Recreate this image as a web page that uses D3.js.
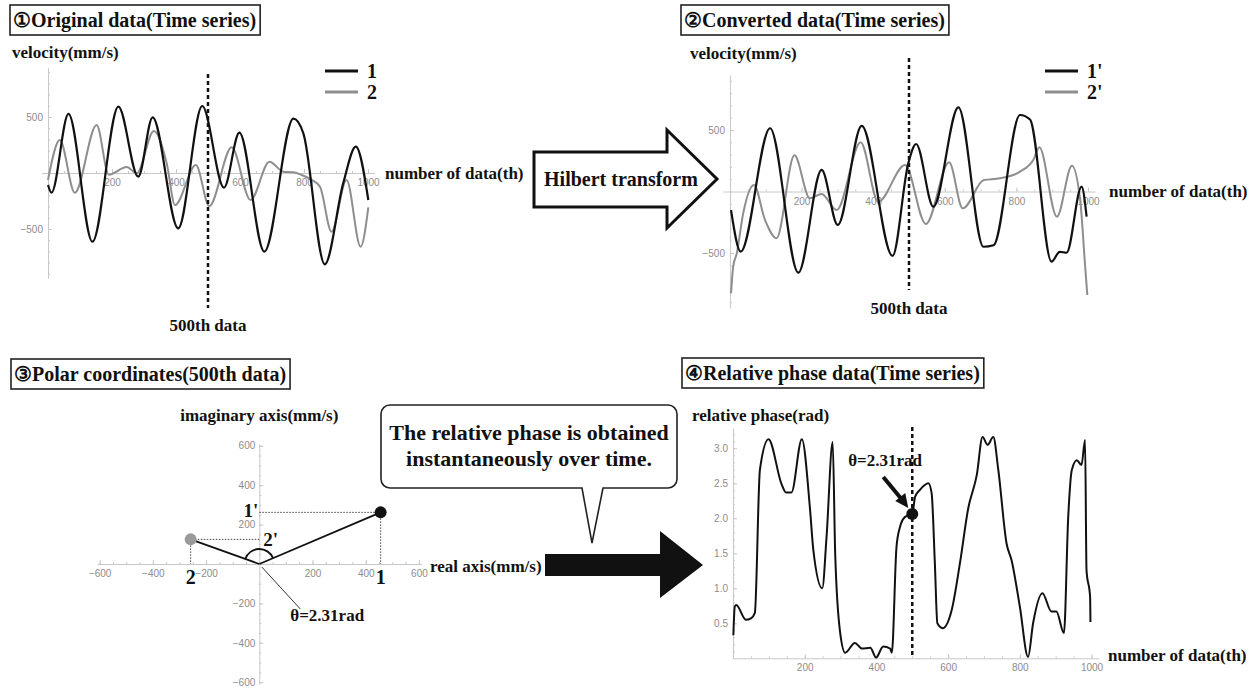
<!DOCTYPE html>
<html>
<head>
<meta charset="utf-8">
<script src="https://cdn.jsdelivr.net/npm/d3@7"></script>
<style>
  body { margin: 0; background: #fff; }
  .lab { font-family: "Liberation Serif", "Times New Roman", serif; font-weight: bold; fill: #111; }
  .axis text { font-family: "Liberation Sans", Arial, sans-serif; font-size: 10px; fill: #8c8c8c; }
  .axis path, .axis line { stroke: #c8c8c8; }
</style>
</head>
<body>
<script>
// ① original velocity, [number of data, mm/s]
const orig1 = [[0,-107],[11,-176],[64,527],[139,-613],[220,592],[282,-33],[327,497],[407,-494],[482,598],
  [550,-131],[598,360],[676,-702],[767,485],[798,354],[865,-815],[923,-86],[962,235],[1001,-241]];
const orig2 = [[0,-62],[37,295],[84,-176],[152,429],[190,-15],[246,54],[277,-3],[331,375],[371,86],[397,-286],
  [462,71],[504,-295],[574,229],[633,-241],[692,101],[735,12],[767,6],[793,-18],[824,-62],[850,-122],
  [886,-524],[933,-62],[977,-658],[1001,-306]];

// ② after hilbert transform
const conv1 = [[3,-152],[30,-489],[112,514],[191,-660],[256,175],[301,-272],[368,533],[454,-524],[498,229],
  [520,386],[568,-124],[638,684],[708,-449],[736,-437],[810,622],[838,585],[898,-570],[921,-490],[940,-498],
  [982,39],[996,-205]];
const conv2 = [[3,-828],[9,-611],[19,-503],[37,-177],[67,53],[98,-232],[130,-380],[180,294],[223,-55],[256,-20],
  [298,-150],[365,400],[414,-83],[489,215],[547,-264],[612,237],[650,-137],[709,93],[754,107],[810,161],
  [847,256],[864,359],[913,-205],[955,210],[978,-69],[992,-611],[998,-841]];

// ③ polar coordinates at the 500th data
const polarReal = [456, -258];
const polarImag = [262, 125];
const polarNames = ["1", "2"];
const polarNamesImag = ["1'", "2'"];

// ④ relative phase (rad)
const phase = [[1,0.33],[5,0.74],[9,0.76],[36,0.55],[50,0.57],[61,0.65],[75,2.69],[99,3.13],[136,2.48],[148,2.37],
  [163,2.37],[192,3.13],[215,2.12],[224,1.55],[249,1.0],[261,1.74],[278,3.09],[285,1.5],[299,0.36],[313,0.08],
  [340,0.22],[359,0.14],[383,0.15],[399,0.01],[419,0.17],[438,0.14],[443,0.08],[456,1.59],[466,1.88],[480,2.02],
  [500,2.06],[508,2.31],[522,2.41],[545,2.5],[554,2.36],[563,1.36],[570,0.5],[585,0.43],[610,0.69],[633,1.36],
  [656,2.14],[680,2.62],[696,3.16],[710,3.05],[726,3.16],[740,2.69],[763,1.64],[777,1.40],[800,0.74],[823,0.02],
  [837,0.5],[863,0.93],[888,0.67],[902,0.67],[923,0.36],[935,2.02],[945,2.69],[959,2.83],[972,2.76],[982,3.12],
  [986,1.26],[996,0.88],[997,0.52]];
const markIdx = 500;
const markPhase = 2.06;

// ticks
const idxTicks = [200, 400, 600, 800, 1000];
const velTicks = [-500, 500];
const polarTicks = [-600, -400, -200, 200, 400, 600];
const phaseTicks = [0.5, 1.0, 1.5, 2.0, 2.5, 3.0];

const BLACK = "#111";
const GRAY = "#8e8e8e";

const svg = d3.select("body").append("svg")
  .attr("width", 1260)
  .attr("height", 691);

const label = function(x, y, txt, size, anchor) {
  return svg.append("text")
    .attr("class", "lab")
    .attr("x", x)
    .attr("y", y)
    .attr("text-anchor", anchor || "start")
    .style("font-size", size + "px")
    .text(txt);
}

const titleBox = function(x, y, h, txt) {
  const r = svg.append("rect")
    .attr("x", x).attr("y", y).attr("height", h)
    .attr("fill", "#fff").attr("stroke", "#222").attr("stroke-width", 1.6);
  const t = label(x + 3, y + h / 2, txt, 20).attr("dy", "0.35em");
  r.attr("width", t.node().getComputedTextLength() + 7);
}

// mathematica-like light axes crossing at the origin
const drawAxes = function(x, y, o) {
  const xa = svg.append("g").attr("class", "axis")
    .attr("transform", `translate(0,${y(0)})`);
  xa.append("g").call(d3.axisBottom(x).tickValues(o.xMinor).tickSizeInner(-2).tickSizeOuter(0).tickFormat(""))
    .select(".domain").remove();
  xa.append("g").call(d3.axisBottom(x).tickValues(o.xMajor).tickSizeInner(-4).tickSizeOuter(0)
    .tickPadding(6).tickFormat(o.xFmt || d3.format("")));

  const ya = svg.append("g").attr("class", "axis")
    .attr("transform", `translate(${x(0)},0)`);
  ya.append("g").call(d3.axisLeft(y).tickValues(o.yMinor).tickSizeInner(-2).tickSizeOuter(0).tickFormat(""))
    .select(".domain").remove();
  ya.append("g").call(d3.axisLeft(y).tickValues(o.yMajor).tickSizeInner(-4).tickSizeOuter(0)
    .tickPadding(o.yPad || 5).tickFormat(o.yFmt || d3.format("")));
}

const drawLine = function(data, x, y, color, width) {
  const line = d3.line()
    .x(d => x(d[0]))
    .y(d => y(d[1]))
    .curve(d3.curveMonotoneX);
  svg.append("path")
    .datum(data)
    .attr("fill", "none")
    .attr("stroke", color)
    .attr("stroke-width", width)
    .attr("stroke-linejoin", "round")
    .attr("d", line);
}

const legend = function(x, y, names) {
  [BLACK, GRAY].forEach((c, i) => {
    svg.append("line")
      .attr("x1", x).attr("x2", x + 33)
      .attr("y1", y + i * 21).attr("y2", y + i * 21)
      .attr("stroke", c).attr("stroke-width", 3);
    label(x + 42, y + i * 21 + 7, names[i], 20);
  });
}

const dashed = function(x0, y0, y1) {
  svg.append("line")
    .attr("x1", x0).attr("x2", x0)
    .attr("y1", y0).attr("y2", y1)
    .attr("stroke", BLACK).attr("stroke-width", 2.5)
    .attr("stroke-dasharray", "4,3");
}

const minorRange = (a, b, s) => d3.range(a, b + 0.001, s);

// ---------- panel 1 ----------
const x1 = d3.scaleLinear().domain([-20, 1020]).range([41.6, 374.4]);
const y1 = d3.scaleLinear().domain([-940, 940]).range([278.3, 67.7]);
titleBox(10, 5, 30, "\u2460Original data(Time series)");
label(12, 58, "velocity(mm/s)", 17);
drawAxes(x1, y1, {
  xMajor: idxTicks, xMinor: minorRange(0, 1000, 50),
  yMajor: velTicks, yMinor: minorRange(-900, 900, 100)
});
drawLine(orig2, x1, y1, GRAY, 2);
drawLine(orig1, x1, y1, BLACK, 2.2);
legend(325, 71, ["1", "2"]);
label(385, 179, "number of data(th)", 17);
dashed(x1(markIdx), 74, 308);
label(x1(markIdx), 331, "500th data", 17, "middle");

// ---------- hilbert arrow ----------
svg.append("polygon")
  .attr("points", [[534,152],[667,152],[667,130],[717,179],[667,228],[667,207],[534,207]].join(" "))
  .attr("fill", "#fff").attr("stroke", BLACK).attr("stroke-width", 3).attr("stroke-linejoin", "miter");
label(621, 186, "Hilbert transform", 20, "middle");

// ---------- panel 2 ----------
const x2 = d3.scaleLinear().domain([-20, 1020]).range([722.8, 1095.2]);
const y2 = d3.scaleLinear().domain([-947, 947]).range([308, 75]);
titleBox(681, 5, 30, "\u2461Converted data(Time series)");
label(690, 59, "velocity(mm/s)", 17);
drawAxes(x2, y2, {
  xMajor: idxTicks, xMinor: minorRange(0, 1000, 50),
  yMajor: velTicks, yMinor: minorRange(-900, 900, 100)
});
drawLine(conv2, x2, y2, GRAY, 2);
drawLine(conv1, x2, y2, BLACK, 2.2);
legend(1045, 71, ["1'", "2'"]);
label(1109, 197, "number of data(th)", 17);
dashed(x2(markIdx), 58, 290);
label(x2(markIdx), 314, "500th data", 17, "middle");

// ---------- panel 3 ----------
const x3 = d3.scaleLinear().domain([-610, 610]).range([97, 421.6]);
const y3 = d3.scaleLinear().domain([-610, 610]).range([684.2, 443.8]);
titleBox(11, 359, 30, "\u2462Polar coordinates(500th data)");
label(x3(0), 421, "imaginary axis(mm/s)", 17, "middle");
drawAxes(x3, y3, {
  xMajor: polarTicks, xMinor: minorRange(-600, 600, 50),
  yMajor: polarTicks, yMinor: minorRange(-600, 600, 50), yPad: 4
});

const ox = x3(0), oy = y3(0);
// projections to the axes
polarReal.forEach((re, i) => {
  const px = x3(re), py = y3(polarImag[i]);
  svg.append("path")
    .attr("d", `M${ox},${py}H${px}M${px},${py}V${oy}`)
    .attr("fill", "none").attr("stroke", "#444").attr("stroke-width", 1)
    .attr("stroke-dasharray", "1.5,1.5");
});
// angle arc between the two vectors
const arcR = 15;
const unit = (px, py) => { const l = Math.hypot(px - ox, py - oy); return [(px - ox) / l, (py - oy) / l]; };
const u1 = unit(x3(polarReal[0]), y3(polarImag[0]));
const u2 = unit(x3(polarReal[1]), y3(polarImag[1]));
svg.append("path")
  .attr("d", `M${ox + arcR * u1[0]},${oy + arcR * u1[1]}A${arcR},${arcR} 0 0 0 ${ox + arcR * u2[0]},${oy + arcR * u2[1]}`)
  .attr("fill", "none").attr("stroke", BLACK).attr("stroke-width", 1.8);
polarReal.forEach((re, i) => {
  svg.append("line")
    .attr("x1", ox).attr("y1", oy)
    .attr("x2", x3(re)).attr("y2", y3(polarImag[i]))
    .attr("stroke", BLACK).attr("stroke-width", 1.8);
});
polarReal.forEach((re, i) => {
  svg.append("circle")
    .attr("cx", x3(re)).attr("cy", y3(polarImag[i])).attr("r", 6)
    .attr("fill", i === 0 ? BLACK : "#9a9a9a");
  label(x3(re), oy + 20, polarNames[i], 20, "middle");
});
label(ox - 1, y3(polarImag[0]) + 5, polarNamesImag[0], 19, "end");
label(ox + 4, y3(polarImag[1]) + 7, polarNamesImag[1], 19);
svg.append("line")
  .attr("x1", ox + 2.5).attr("y1", oy + 3)
  .attr("x2", ox + 41).attr("y2", oy + 45)
  .attr("stroke", "#333").attr("stroke-width", 1);
label(ox + 31, oy + 57, "\u03b8=2.31rad", 17);
label(430, 572, "real axis(mm/s)", 17);

// ---------- callout and black arrow ----------
const bx0 = 381, by0 = 405, bx1 = 677, by1 = 488, br = 9;
const bubble = d3.path();
bubble.moveTo(bx0 + br, by0);
bubble.lineTo(bx1 - br, by0);
bubble.arcTo(bx1, by0, bx1, by0 + br, br);
bubble.lineTo(bx1, by1 - br);
bubble.arcTo(bx1, by1, bx1 - br, by1, br);
bubble.lineTo(603, by1);
bubble.lineTo(592, 543);
bubble.lineTo(582, by1);
bubble.lineTo(bx0 + br, by1);
bubble.arcTo(bx0, by1, bx0, by1 - br, br);
bubble.lineTo(bx0, by0 + br);
bubble.arcTo(bx0, by0, bx0 + br, by0, br);
bubble.closePath();
svg.append("path").attr("d", bubble.toString())
  .attr("fill", "#fff").attr("stroke", "#222").attr("stroke-width", 1.6);
label(529, 440, "The relative phase is obtained", 22, "middle");
label(529, 466, "instantaneously over time.", 22, "middle");

svg.append("polygon")
  .attr("points", [[545,554],[660,554],[660,531],[703,565],[660,598],[660,576],[545,576]].join(" "))
  .attr("fill", BLACK);

// ---------- panel 4 ----------
const x4 = d3.scaleLinear().domain([0, 1020]).range([733, 1098.7]);
const y4 = d3.scaleLinear().domain([0, 3.29]).range([658.3, 428]);
titleBox(682, 358, 30, "\u2463Relative phase data(Time series)");
label(692, 421, "relative phase(rad)", 17);
drawAxes(x4, y4, {
  xMajor: idxTicks, xMinor: minorRange(0, 1000, 50),
  yMajor: phaseTicks, yMinor: minorRange(0.1, 3.2, 0.1), yFmt: d3.format(".1f")
});
dashed(x4(markIdx), 427, 658);
drawLine(phase, x4, y4, BLACK, 2);
const mx = x4(markIdx), my = y4(markPhase);
svg.append("circle").attr("cx", mx).attr("cy", my).attr("r", 6).attr("fill", BLACK);
// pointer arrow to the 500th value
svg.append("line")
  .attr("x1", mx - 29).attr("y1", my - 37)
  .attr("x2", mx - 10).attr("y2", my - 14)
  .attr("stroke", BLACK).attr("stroke-width", 4);
svg.append("polygon")
  .attr("points", [[mx - 4, my - 6], [mx - 17, my - 13], [mx - 7, my - 21]].join(" "))
  .attr("fill", BLACK);
label(mx - 64, my - 48, "\u03b8=2.31rad", 17);
label(1108, 661, "number of data(th)", 17);
</script>
</body>
</html>
